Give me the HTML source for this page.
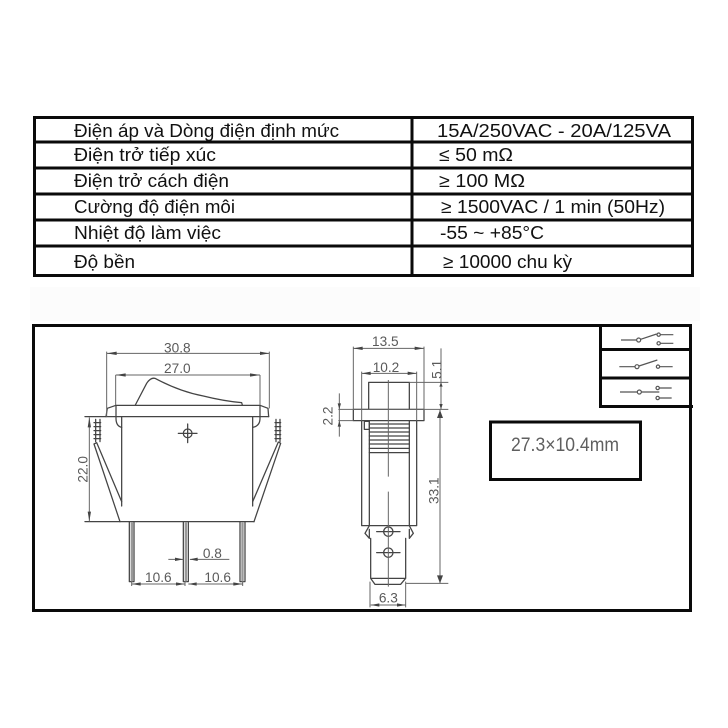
<!DOCTYPE html>
<html lang="vi"><head><meta charset="utf-8"><title>Rocker switch</title>
<style>
html,body{margin:0;padding:0;background:#fff}
svg{display:block}
.t{font-family:"Liberation Sans",sans-serif;font-size:18.5px;fill:#111}
.d{font-family:"Liberation Sans",sans-serif;font-size:41px;fill:#5a5a5a}
.l{fill:none;stroke:#444;stroke-width:3.8;stroke-linejoin:round;stroke-linecap:round}
.th{fill:none;stroke:#666;stroke-width:3}
.a{fill:#444;stroke:none}
.soft{filter:blur(.35px)}
</style></head><body>
<svg xmlns="http://www.w3.org/2000/svg" width="728" height="728" viewBox="0 0 728 728">
<rect width="728" height="728" fill="#fff"/>
<rect x="30" y="287" width="670" height="34" fill="#fcfcfc"/>

<!-- Table -->
<g fill="none" stroke="#0a0a0a" stroke-width="3">
<rect x="34.5" y="117.5" width="658" height="158"/>
<path d="M34 142H693M34 168H693M34 194H693M34 220H693M34 246H693M412 117V276"/>
</g>
<g class="t">
<text x="74" y="137" textLength="265" lengthAdjust="spacingAndGlyphs">Điện áp và Dòng điện định mức</text>
<text x="74" y="161" textLength="142" lengthAdjust="spacingAndGlyphs">Điện trở tiếp xúc</text>
<text x="74" y="187" textLength="155" lengthAdjust="spacingAndGlyphs">Điện trở cách điện</text>
<text x="74" y="213" textLength="161" lengthAdjust="spacingAndGlyphs">Cường độ điện môi</text>
<text x="74" y="239" textLength="147" lengthAdjust="spacingAndGlyphs">Nhiệt độ làm việc</text>
<text x="74" y="268" textLength="61" lengthAdjust="spacingAndGlyphs">Độ bền</text>
<text x="437" y="137" textLength="234" lengthAdjust="spacingAndGlyphs">15A/250VAC - 20A/125VA</text>
<text x="439" y="161" textLength="74" lengthAdjust="spacingAndGlyphs">≤ 50 mΩ</text>
<text x="439" y="187" textLength="86" lengthAdjust="spacingAndGlyphs">≥ 100 MΩ</text>
<text x="441" y="213" textLength="224" lengthAdjust="spacingAndGlyphs">≥ 1500VAC / 1 min (50Hz)</text>
<text x="440" y="239" textLength="104" lengthAdjust="spacingAndGlyphs">-55 ~ +85°C</text>
<text x="443" y="268" textLength="129" lengthAdjust="spacingAndGlyphs">≥ 10000 chu kỳ</text>
</g>

<!-- Outer frame and boxes -->
<g fill="none" stroke="#0a0a0a" stroke-width="3">
<path d="M33.5 325.5H690.5V610.5H33.5Z"/>
<path d="M600.5 325V406.5H693M600 349.5H691M600 378H691"/>
<rect x="490.5" y="422" width="150" height="57.5"/>
</g>
<text class="soft" x="511" y="451" font-family="Liberation Sans,sans-serif" font-size="19" fill="#5f5f5f" textLength="108" lengthAdjust="spacingAndGlyphs">27.3×10.4mm</text>

<!-- Front view -->
<g class="soft" transform="translate(30 320) scale(.33333)">
<g class="l">
<path d="M228 290L232 265L258 256H690L714 265L716 290"/>
<path d="M165 290H716"/>
<path d="M316 255L350 190Q362 172 375 175Q450 215 520 228Q580 243 635 248L637 255"/>
<path d="M258 256V295Q258 318 275 322M690 256V295Q690 318 668 322"/>
<path d="M275 290V558M668 290V558"/>
<path d="M192 372L200 368L275 545M192 372L270 605M752 370L745 366L668 545M752 370L672 605"/>
<path d="M165 605H672"/>
<path d="M197 298V365M210 298V365M738 298V365M750 298V365"/>
<path d="M192 308H212M192 320H212M192 332H212M192 344H212M192 356H212M735 308H752M735 320H752M735 332H752M735 344H752M735 356H752"/>
<path d="M298 605V785H312V605M460 605V785H475V605M630 605V785H645V605"/>
<circle cx="473" cy="340" r="13"/>
<path d="M473 312V368M445 340H501"/>
</g>
<g fill="#999"><rect x="302" y="606" width="7" height="178"/><rect x="464" y="606" width="7" height="178"/><rect x="634" y="606" width="7" height="178"/></g>
<g class="th">
<path d="M230 100H718M230 95V290M718 95V265M257 165H690M257 165V255M690 165V255"/>
<path d="M178 292V604M415 718H460M480 718H598M305 792H465M475 792H638M305 785V798M465 785V798M638 785V798"/>
</g>
<g class="a">
<path d="M230 100L260 95V105ZM718 100L690 95V105ZM257 165L287 160V170ZM690 165L660 160V170Z"/>
<path d="M178 292L173 322H183ZM178 604L173 575H183Z"/>
<path d="M460 718L435 713V723ZM478 718L503 713V723Z"/>
<path d="M305 792L332 787V797ZM465 792L438 787V797ZM475 792L500 787V797ZM638 792L610 787V797Z"/>
</g>
<g class="d" text-anchor="middle">
<text x="442" y="98">30.8</text>
<text x="442" y="159">27.0</text>
<text x="547" y="714">0.8</text>
<text x="385" y="786">10.6</text>
<text x="563" y="786">10.6</text>
<text transform="translate(173 448) rotate(-90)">22.0</text>
</g>
</g>

<!-- Side view -->
<g class="soft" transform="translate(310 320) scale(.33333)">
<g class="l">
<path d="M176 268V187H298V268"/>
<rect x="130" y="268" width="212" height="34"/>
<path d="M155 302V617H320V302"/>
<path d="M178 302V617M298 302V617"/>
<path d="M178 312H298M178 324H298M178 336H298M178 348H298M178 360H298M178 372H298M178 385H298M178 398H298"/>
<rect x="163" y="304" width="15" height="24"/>
<path d="M178 617L165 640L178 655V628M298 617L310 640L298 655V628"/>
<path d="M182 655V775L195 793H272L287 775V655M182 775H287"/>
<circle cx="235" cy="635" r="14"/>
<circle cx="235" cy="698" r="14"/>
<path d="M200 635H270M200 698H270"/>
</g>
<g class="th">
<path d="M235 180V470M235 515V800"/>
<path d="M130 85H342M130 80V268M342 80V268M155 160H320M155 155V302M320 155V302"/>
<path d="M298 187H415M85 268H415M85 302H130M393 85V268M88 220V350"/>
<path d="M390 268V790M287 790H415M182 855H287M180 785V862M287 785V862"/>
</g>
<g class="a">
<path d="M130 85L158 80V90ZM342 85L314 80V90ZM155 160L182 155V165ZM320 160L293 155V165Z"/>
<path d="M393 187L388 200H398ZM393 268L388 252H398ZM88 268L83 250H93ZM88 302L83 320H93Z"/>
<path d="M390 270L381 294H399ZM390 790L381 766H399ZM182 855L208 850V860ZM287 855L261 850V860Z"/>
</g>
<g class="d" text-anchor="middle">
<text x="226" y="78">13.5</text>
<text x="228" y="156">10.2</text>
<text x="235" y="847">6.3</text>
<text transform="translate(395 148) rotate(-90)">5.1</text>
<text transform="translate(67 288) rotate(-90)">2.2</text>
<text transform="translate(385 512) rotate(-90)">33.1</text>
</g>
</g>

<!-- Switch symbols -->
<g class="soft" transform="translate(480 320) scale(.33333)" fill="none" stroke="#555" stroke-width="3.6">
<path d="M423 60H470M482 58L530 42M541 44H580M541 70H580"/>
<circle cx="476" cy="60" r="6"/><circle cx="536" cy="44" r="5"/><circle cx="536" cy="70" r="5"/>
<path d="M418 140H465M477 138L532 120M539 140H578"/>
<circle cx="471" cy="140" r="6"/><circle cx="534" cy="140" r="5"/>
<path d="M420 216H472M484 216H538M538 204H575M538 234H575"/>
<circle cx="478" cy="216" r="6"/><circle cx="533" cy="204" r="5"/><circle cx="533" cy="234" r="5"/>
</g>
</svg>
</body></html>
